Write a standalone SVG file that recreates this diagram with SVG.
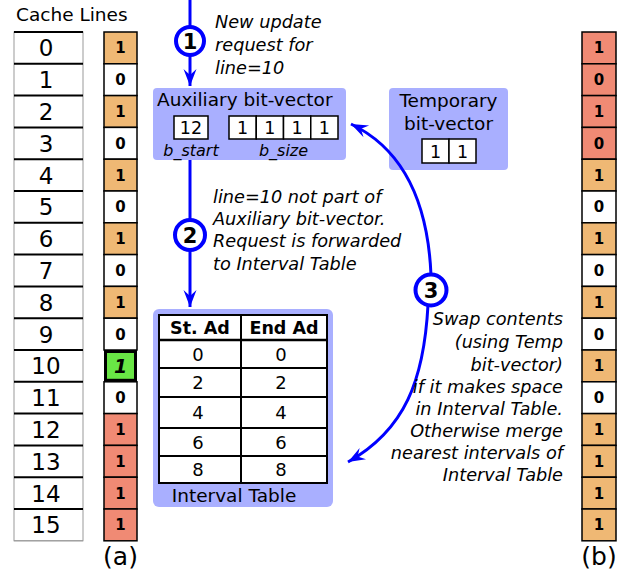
<svg xmlns="http://www.w3.org/2000/svg" width="622" height="574" viewBox="0 0 622 574">
<defs>
<style>
text{font-family:"DejaVu Sans","Liberation Sans",sans-serif;fill:#000}
.num{font-size:23px;text-anchor:middle}
.bit{font-size:15px;font-weight:bold;text-anchor:middle}
.it{font-size:17.7px;font-style:italic}
.lbl{font-size:18.5px}
.box{font-size:17.5px;text-anchor:middle}
.tv{font-size:18px;text-anchor:middle}
.th{font-size:17.5px;font-weight:bold;text-anchor:middle}
.cell{fill:#fff;stroke:#000;stroke-width:1.5}
.o{fill:#efb874;stroke:#000;stroke-width:1.5}
.r{fill:#f08a74;stroke:#000;stroke-width:1.5}
.w{fill:#fff;stroke:#000;stroke-width:1.5}
.panel{fill:#a9afff}
.conn{fill:none;stroke:#0000ff;stroke-width:3}
.step{fill:#fff;stroke:#0000ff;stroke-width:4}
.stepn{font-size:21px;font-weight:bold;text-anchor:middle}
</style>
<marker id="ah" viewBox="-18 -7 19 14" refX="0" refY="0" markerWidth="19" markerHeight="14" markerUnits="userSpaceOnUse" orient="auto">
<path d="M0,0 L-17,-6.5 L-11,0 L-17,6.5 Z" fill="#0000ff"/>
</marker>
</defs>

<text x="16" y="21" style="font-size:18.5px">Cache Lines</text>

<g id="cache-lines">
<rect x="14" y="32" width="69" height="508.8" fill="#fff" stroke="#999" stroke-width="1"/>
<g stroke="#000" stroke-width="2">
<line x1="14" y1="32" x2="83" y2="32"/><line x1="14" y1="63.8" x2="83" y2="63.8"/><line x1="14" y1="95.6" x2="83" y2="95.6"/><line x1="14" y1="127.4" x2="83" y2="127.4"/><line x1="14" y1="159.2" x2="83" y2="159.2"/><line x1="14" y1="191" x2="83" y2="191"/><line x1="14" y1="222.8" x2="83" y2="222.8"/><line x1="14" y1="254.6" x2="83" y2="254.6"/><line x1="14" y1="286.4" x2="83" y2="286.4"/><line x1="14" y1="318.2" x2="83" y2="318.2"/><line x1="14" y1="350" x2="83" y2="350"/><line x1="14" y1="381.8" x2="83" y2="381.8"/><line x1="14" y1="413.6" x2="83" y2="413.6"/><line x1="14" y1="445.4" x2="83" y2="445.4"/><line x1="14" y1="477.2" x2="83" y2="477.2"/><line x1="14" y1="509" x2="83" y2="509"/>
</g>
<line x1="14" y1="540.8" x2="83" y2="540.8" stroke="#999" stroke-width="1"/>
<text class="num" x="46" y="56.3">0</text><text class="num" x="46" y="88.1">1</text><text class="num" x="46" y="119.9">2</text><text class="num" x="46" y="151.7">3</text><text class="num" x="46" y="183.5">4</text><text class="num" x="46" y="215.3">5</text><text class="num" x="46" y="247.1">6</text><text class="num" x="46" y="278.9">7</text><text class="num" x="46" y="310.7">8</text><text class="num" x="46" y="342.5">9</text><text class="num" x="46" y="374.3">10</text><text class="num" x="46" y="406.1">11</text><text class="num" x="46" y="437.9">12</text><text class="num" x="46" y="469.7">13</text><text class="num" x="46" y="501.5">14</text><text class="num" x="46" y="533.3">15</text>
</g>

<g id="bits-a">
<rect class="o" x="104" y="32" width="33" height="31.8"/><rect class="w" x="104" y="63.8" width="33" height="31.8"/><rect class="o" x="104" y="95.6" width="33" height="31.8"/><rect class="w" x="104" y="127.4" width="33" height="31.8"/><rect class="o" x="104" y="159.2" width="33" height="31.8"/><rect class="w" x="104" y="191" width="33" height="31.8"/><rect class="o" x="104" y="222.8" width="33" height="31.8"/><rect class="w" x="104" y="254.6" width="33" height="31.8"/><rect class="o" x="104" y="286.4" width="33" height="31.8"/><rect class="w" x="104" y="318.2" width="33" height="31.8"/><rect class="w" x="104" y="381.8" width="33" height="31.8"/><rect class="r" x="104" y="413.6" width="33" height="31.8"/><rect class="r" x="104" y="445.4" width="33" height="31.8"/><rect class="r" x="104" y="477.2" width="33" height="31.8"/><rect class="r" x="104" y="509" width="33" height="31.8"/>
<rect x="105.5" y="351.5" width="30" height="28.8" fill="#69e645" stroke="#000" stroke-width="3"/>
<text class="bit" x="120.5" y="53.3">1</text><text class="bit" x="120.5" y="85.1">0</text><text class="bit" x="120.5" y="116.9">1</text><text class="bit" x="120.5" y="148.7">0</text><text class="bit" x="120.5" y="180.5">1</text><text class="bit" x="120.5" y="212.3">0</text><text class="bit" x="120.5" y="244.1">1</text><text class="bit" x="120.5" y="275.9">0</text><text class="bit" x="120.5" y="307.7">1</text><text class="bit" x="120.5" y="339.5">0</text><text class="bit" x="120.5" y="372.5" style="font-size:19px;font-style:italic">1</text><text class="bit" x="120.5" y="403.1">0</text><text class="bit" x="120.5" y="434.9">1</text><text class="bit" x="120.5" y="466.7">1</text><text class="bit" x="120.5" y="498.5">1</text><text class="bit" x="120.5" y="530.3">1</text>
</g>
<text x="120.5" y="565" style="font-size:25px;text-anchor:middle">(a)</text>

<g id="bits-b">
<rect class="r" x="582" y="32" width="34" height="31.8"/><rect class="r" x="582" y="63.8" width="34" height="31.8"/><rect class="r" x="582" y="95.6" width="34" height="31.8"/><rect class="r" x="582" y="127.4" width="34" height="31.8"/><rect class="o" x="582" y="159.2" width="34" height="31.8"/><rect class="w" x="582" y="191" width="34" height="31.8"/><rect class="o" x="582" y="222.8" width="34" height="31.8"/><rect class="w" x="582" y="254.6" width="34" height="31.8"/><rect class="o" x="582" y="286.4" width="34" height="31.8"/><rect class="w" x="582" y="318.2" width="34" height="31.8"/><rect class="o" x="582" y="350" width="34" height="31.8"/><rect class="w" x="582" y="381.8" width="34" height="31.8"/><rect class="o" x="582" y="413.6" width="34" height="31.8"/><rect class="o" x="582" y="445.4" width="34" height="31.8"/><rect class="o" x="582" y="477.2" width="34" height="31.8"/><rect class="o" x="582" y="509" width="34" height="31.8"/>
<text class="bit" x="599" y="53.3">1</text><text class="bit" x="599" y="85.1">0</text><text class="bit" x="599" y="116.9">1</text><text class="bit" x="599" y="148.7">0</text><text class="bit" x="599" y="180.5">1</text><text class="bit" x="599" y="212.3">0</text><text class="bit" x="599" y="244.1">1</text><text class="bit" x="599" y="275.9">0</text><text class="bit" x="599" y="307.7">1</text><text class="bit" x="599" y="339.5">0</text><text class="bit" x="599" y="371.3">1</text><text class="bit" x="599" y="403.1">0</text><text class="bit" x="599" y="434.9">1</text><text class="bit" x="599" y="466.7">1</text><text class="bit" x="599" y="498.5">1</text><text class="bit" x="599" y="530.3">1</text>
</g>
<text x="599" y="565" style="font-size:25px;text-anchor:middle">(b)</text>

<g id="aux-bitvector">
<rect class="panel" x="153" y="88" width="193" height="72" rx="4"/>
<text class="lbl" x="157" y="106">Auxiliary bit-vector</text>
<rect class="cell" x="174" y="116" width="34" height="23"/>
<text class="box" x="191" y="134">12</text>
<rect class="cell" x="229" y="116" width="27.25" height="23"/><rect class="cell" x="256.25" y="116" width="27.25" height="23"/><rect class="cell" x="283.5" y="116" width="27.25" height="23"/><rect class="cell" x="310.75" y="116" width="27.25" height="23"/>
<text class="box" x="242.6" y="134">1</text><text class="box" x="269.9" y="134">1</text><text class="box" x="297.1" y="134">1</text><text class="box" x="324.4" y="134">1</text>
<text x="191" y="156" style="font-size:16px;font-style:italic;text-anchor:middle">b_start</text>
<text x="283.5" y="156" style="font-size:16px;font-style:italic;text-anchor:middle">b_size</text>
</g>

<g id="temp-bitvector">
<rect class="panel" x="389" y="88" width="119" height="82" rx="4"/>
<text class="lbl" x="448.5" y="107" style="text-anchor:middle">Temporary</text>
<text class="lbl" x="448.5" y="130" style="text-anchor:middle">bit-vector</text>
<rect class="cell" x="422" y="139" width="27" height="24"/><rect class="cell" x="449" y="139" width="27" height="24"/>
<text class="box" x="435.5" y="157.5">1</text><text class="box" x="462.5" y="157.5">1</text>
</g>

<g id="interval-table">
<rect class="panel" x="153" y="309" width="180" height="198" rx="6"/>
<rect x="159" y="315" width="168" height="168" fill="#fff" stroke="#000" stroke-width="2"/>
<g stroke="#000" stroke-width="2">
<line x1="241" y1="315" x2="241" y2="483"/>
<line x1="159" y1="340" x2="327" y2="340" stroke-width="2.5"/>
<line x1="159" y1="368" x2="327" y2="368"/>
<line x1="159" y1="397" x2="327" y2="397"/>
<line x1="159" y1="428" x2="327" y2="428"/>
<line x1="159" y1="456" x2="327" y2="456"/>
</g>
<text class="th" x="200" y="334">St. Ad</text>
<text class="th" x="284" y="334">End Ad</text>
<text class="tv" x="198" y="360.5">0</text><text class="tv" x="281" y="360.5">0</text>
<text class="tv" x="198" y="389">2</text><text class="tv" x="281" y="389">2</text>
<text class="tv" x="198" y="419">4</text><text class="tv" x="281" y="419">4</text>
<text class="tv" x="198" y="448.5">6</text><text class="tv" x="281" y="448.5">6</text>
<text class="tv" x="198" y="476">8</text><text class="tv" x="281" y="476">8</text>
<text class="lbl" x="234" y="502" style="text-anchor:middle">Interval Table</text>
</g>

<g id="connectors">
<path class="conn" d="M190,0 L190,86" marker-end="url(#ah)"/>
<path class="conn" d="M190,160 L190,307" marker-end="url(#ah)"/>
<path class="conn" d="M431,275 C428,205 405,150 351,124" marker-end="url(#ah)"/>
<path class="conn" d="M428,305 C424,380 405,430 348,462" marker-end="url(#ah)"/>
</g>

<g id="step1">
<circle class="step" cx="190" cy="41" r="14"/>
<text class="stepn" x="190" y="48.5">1</text>
</g>
<g id="step2">
<circle class="step" cx="190" cy="235" r="15"/>
<text class="stepn" x="190" y="242.5">2</text>
</g>
<g id="step3">
<circle class="step" cx="431" cy="290" r="15.5"/>
<text class="stepn" x="431" y="297.5">3</text>
</g>

<g id="labels">
<text class="it" x="215" y="28">New update</text>
<text class="it" x="215" y="51">request for</text>
<text class="it" x="215" y="74">line=10</text>
<text class="it" x="213" y="203">line=10 not part of</text>
<text class="it" x="213" y="225">Auxiliary bit-vector.</text>
<text class="it" x="213" y="247">Request is forwarded</text>
<text class="it" x="213" y="270">to Interval Table</text>
<g style="text-anchor:end">
<text class="it" x="563" y="325">Swap contents</text>
<text class="it" x="563" y="348">(using Temp</text>
<text class="it" x="563" y="371">bit-vector)</text>
<text class="it" x="563" y="393">if it makes space</text>
<text class="it" x="563" y="415">in Interval Table.</text>
<text class="it" x="563" y="437">Otherwise merge</text>
<text class="it" x="563" y="459">nearest intervals of</text>
<text class="it" x="563" y="481">Interval Table</text>
</g>
</g>
</svg>
